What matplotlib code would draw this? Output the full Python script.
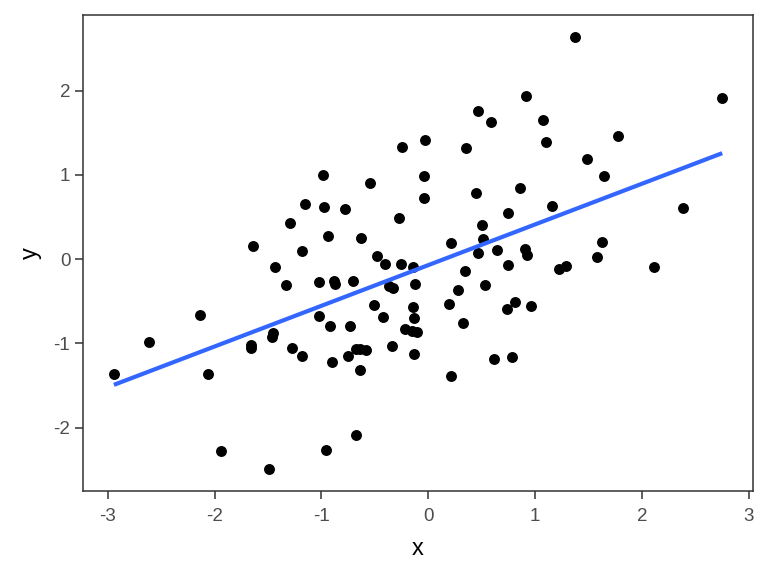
import numpy as np
import matplotlib
matplotlib.use("Agg")
import matplotlib.pyplot as plt

plt.rcParams['font.family'] = ['Liberation Sans', 'DejaVu Sans']

x = [-2.944, -2.616, -2.142, -2.067, -1.943, -1.490, -0.957, -0.674, -1.659, -1.659,
     -1.453, -1.466, -1.431, -1.335, -1.279, -1.179, -1.179, -1.642, -1.024, -0.884,
     -0.875, -0.708, -1.024, -0.917, -0.737, -0.898, -0.756, -0.678, -0.636, -0.585,
     -0.636, -0.371, -0.330, -0.122, -0.512, -0.421, -0.143, -0.131, -0.215, -0.106,
     -0.152, -0.340, -0.133, -0.985, -0.543, -0.044, -0.044, -1.153, -0.979, -0.779,
     -0.271, -1.293, -0.942, -0.631, -0.477, -0.405, -0.253, -0.147, -0.246, -0.028,
     1.378, 2.753, 0.920, 0.465, 0.583, 1.073, 1.104, 0.355, 1.775, 1.485,
     1.644, 0.449, 0.861, 1.163, 2.385, 0.748, 0.500, 0.512, 0.215, 1.630,
     0.643, 0.463, 0.907, 0.926, 1.583, 0.751, 0.340, 1.228, 1.286, 2.114,
     0.283, 0.535, 0.196, 0.330, 0.736, 0.812, 0.961, 0.617, 0.786, 0.215]

y = [-1.366, -0.982, -0.667, -1.361, -2.277, -2.494, -2.265, -2.091, -1.020, -1.050,
     -0.876, -0.923, -0.095, -0.310, -1.056, -1.153, 0.092, 0.157, -0.275, -0.265,
     -0.298, -0.260, -0.679, -0.792, -0.798, -1.227, -1.147, -1.065, -1.073, -1.083,
     -1.322, -0.316, -0.346, -0.292, -0.541, -0.691, -0.570, -0.704, -0.828, -0.866,
     -0.857, -1.034, -1.129, 1.001, 0.899, 0.988, 0.729, 0.660, 0.615, 0.592,
     0.485, 0.433, 0.276, 0.249, 0.033, -0.056, -0.059, -0.091, 1.333, 1.418,
     2.643, 1.909, 1.941, 1.759, 1.633, 1.649, 1.392, 1.317, 1.463, 1.195,
     0.986, 0.788, 0.844, 0.627, 0.607, 0.544, 0.406, 0.240, 0.189, 0.199,
     0.104, 0.069, 0.118, 0.045, 0.027, -0.067, -0.141, -0.118, -0.082, -0.095,
     -0.369, -0.307, -0.533, -0.762, -0.592, -0.514, -0.555, -1.183, -1.160, -1.383]

x_ticks = [-3, -2, -1, 0, 1, 2, 3]
y_ticks = [-2, -1, 0, 1, 2]

xa = np.array(x)
ya = np.array(y)

fig = plt.figure(figsize=(7.68, 5.76), dpi=100)
ax = fig.add_axes([0.1087, 0.148, 0.980 - 0.1087, 0.974 - 0.148])

ax.scatter(xa, ya, s=62, color='black', linewidths=0, zorder=2)

slope, intercept = np.polyfit(xa, ya, 1)
xl = np.array([xa.min(), xa.max()])
ax.plot(xl, intercept + slope * xl, color='#3366FF', lw=3, solid_capstyle='butt', zorder=3)

def expand(v):
    lo, hi = min(v), max(v)
    r = hi - lo
    return lo - 0.05 * r, hi + 0.05 * r

ax.set_xlim(*expand(x))
ax.set_ylim(*expand(y))
ax.set_xticks(x_ticks)
ax.set_yticks(y_ticks)
ax.set_xticklabels([str(t) for t in x_ticks])
ax.set_yticklabels([str(t) for t in y_ticks])

for s in ax.spines.values():
    s.set_color('#333333')
    s.set_linewidth(1.1)

ax.tick_params(axis='both', colors='#333333', length=5.5, width=1.1,
               labelsize=13.5, labelcolor='#4D4D4D')
ax.tick_params(axis='x', pad=7)
ax.tick_params(axis='y', pad=4)
ax.set_xlabel('x', fontsize=17, color='black', labelpad=9)
ax.set_ylabel('y', fontsize=17, color='black', labelpad=8)

fig.savefig('out.png', dpi=100, facecolor='white')
